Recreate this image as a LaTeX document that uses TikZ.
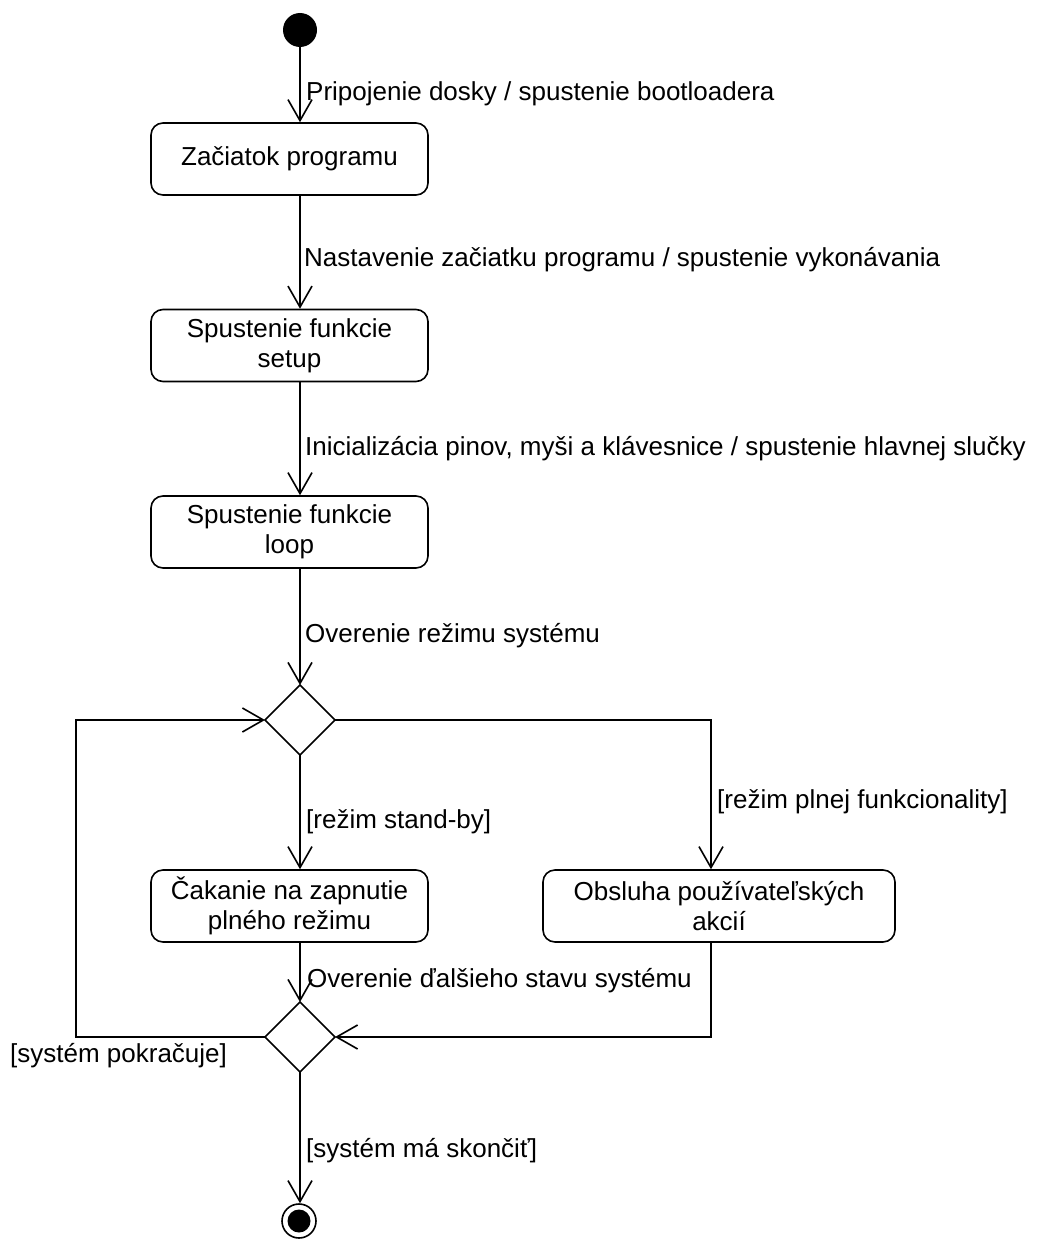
\documentclass[tikz,border=0pt]{standalone}
\usepackage{fontspec}
\setmainfont{Liberation Sans}
\usetikzlibrary{arrows.meta,shapes.geometric}
\begin{document}
\begin{tikzpicture}[x=1pt,y=-1pt,
  every node/.style={font=\fontsize{26}{30}\selectfont},
  arr/.style={line width=1.6pt,-{Straight Barb[length=21pt,width=24pt,line width=1.6pt]}},
  plain/.style={line width=1.6pt},
  act/.style={draw,line width=1.6pt,rectangle,rounded corners=12pt,minimum width=277pt,minimum height=72pt,align=center,inner sep=0pt},
  dec/.style={draw,line width=1.6pt,diamond,minimum width=70pt,minimum height=70pt,inner sep=0pt,outer sep=0pt},
  lbl/.style={anchor=base west,inner sep=0pt}]
\useasboundingbox (0,0) rectangle (1036,1239);
% nodes
\node[circle,fill,minimum size=34pt,inner sep=0pt] (init) at (300,30) {};
\node[act] (b1) at (289.5,159) {Začiatok programu};
\node[act] (b2) at (289.5,345.5) {Spustenie funkcie\\setup};
\node[act] (b3) at (289.5,532) {Spustenie funkcie\\loop};
\node[dec] (d1) at (300,720) {};
\node[act] (wait) at (289.5,906) {Čakanie na zapnutie\\plného režimu};
\node[act,minimum width=352pt] (obs) at (719,906) {Obsluha používateľských\\akcií};
\node[dec] (d2) at (300,1037) {};
\node[circle,draw,line width=1.6pt,minimum size=34pt,inner sep=0pt] (fin) at (299,1221) {};
\node[circle,fill,minimum size=23pt,inner sep=0pt] (finin) at (fin.center) {};
\coordinate (lc) at (76,1037);
% connectors
\draw[arr] (init) -- (b1.north -| init.center);
\draw[arr] (b1.south -| init.center) -- (b2.north -| init.center);
\draw[arr] (b2.south -| init.center) -- (b3.north -| init.center);
\draw[arr] (b3.south -| init.center) -- (d1.north);
\draw[arr] (d1.south) -- (wait.north -| d1.south);
\draw[arr] (d1.east) -| ([xshift=-8pt]obs.north);
\draw[arr] (wait.south -| d2.north) -- (d2.north);
\draw[arr] ([xshift=-8pt]obs.south) |- (d2.east);
\draw[arr] (d2.west) -- (lc) |- (d1.west);
\draw[arr] (d2.south) -- (fin.north -| d2.south);
% labels
\node[lbl] (l1) at (306,100) {Pripojenie dosky / spustenie bootloadera};
\node[lbl] (l2) at (304,266) {Nastavenie začiatku programu / spustenie vykonávania};
\node[lbl] (l3) at (305,455) {Inicializácia pinov, myši a klávesnice / spustenie hlavnej slučky};
\node[lbl] (l4) at (305,642) {Overenie režimu systému};
\node[lbl] (l5) at (306,828) {[režim stand-by]};
\node[lbl] (l6) at (717,808) {[režim plnej funkcionality]};
\node[lbl] (l7) at (307,987) {Overenie ďalšieho stavu systému};
\node[lbl] (l8) at (10,1062) {[systém pokračuje]};
\node[lbl] (l9) at (306,1157) {[systém má skončiť]};
\end{tikzpicture}
\end{document}
